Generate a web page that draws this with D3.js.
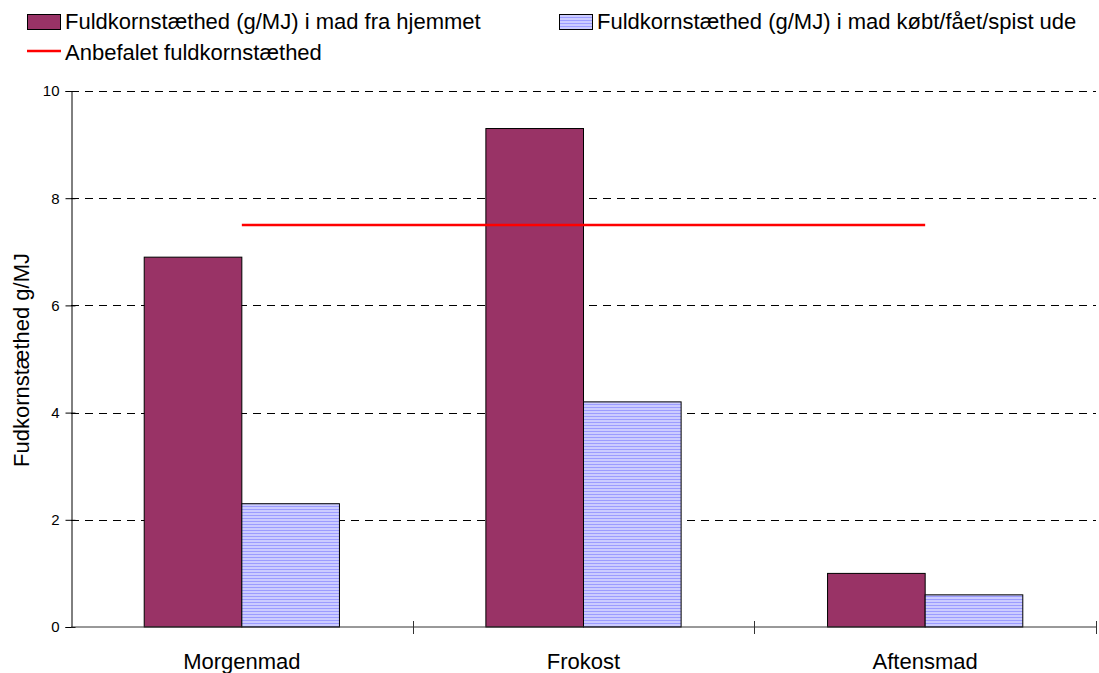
<!DOCTYPE html>
<html>
<head>
<meta charset="utf-8">
<script src="https://cdn.jsdelivr.net/npm/d3@7"></script>
<style>
  html, body { margin: 0; padding: 0; background: #fff; }
  svg { display: block; font-family: "Liberation Sans", Arial, sans-serif; }
</style>
</head>
<body>
<svg id="chart" width="1099" height="673"></svg>
<script>
// Meals and whole-grain density values (g/MJ)
const categories = ["Morgenmad", "Frokost", "Aftensmad"];
const homeValues = [6.9, 9.3, 1.0];
const outValues = [2.3, 4.2, 0.6];
const recommended = [7.5, 7.5, 7.5];
const yTicks = [0, 2, 4, 6, 8, 10];
const seriesNames = [
  "Fuldkornstæthed (g/MJ) i mad fra hjemmet",
  "Fuldkornstæthed (g/MJ) i mad købt/fået/spist ude",
  "Anbefalet fuldkornstæthed"
];
const yTitle = "Fudkornstæthed g/MJ";

const W = 1099, H = 673;
const margin = { top: 91, right: 3, bottom: 46, left: 71 };
const svg = d3.select("#chart");

// striped fill for the "ude" series
const defs = svg.append("defs");
const pat = defs.append("pattern")
  .attr("id", "stripes")
  .attr("patternUnits", "userSpaceOnUse")
  .attr("width", 6).attr("height", 3);
pat.append("rect").attr("width", 6).attr("height", 3).attr("fill", "#ccccff");
pat.append("rect").attr("y", 2).attr("width", 6).attr("height", 1).attr("fill", "#9c9cff");

const x = d3.scaleBand()
  .domain(categories)
  .range([margin.left, W - margin.right]);
// two bars take 2/3.5 of each band (gap = 1.5 bar widths)
const barW = x.bandwidth() / 3.5;

const y = d3.scaleLinear()
  .domain([0, 10])
  .range([H - margin.bottom, margin.top]);

// dashed horizontal gridlines
svg.append("g")
  .selectAll("line")
  .data(yTicks.filter(d => d > 0))
  .join("line")
  .attr("x1", margin.left).attr("x2", W - margin.right)
  .attr("y1", d => Math.round(y(d)) + 0.5).attr("y2", d => Math.round(y(d)) + 0.5)
  .attr("stroke", "#000")
  .attr("stroke-width", 1)
  .attr("stroke-dasharray", "8,6");

const center = c => x(c) + x.bandwidth() / 2;

// bars: home
svg.append("g")
  .selectAll("rect")
  .data(categories)
  .join("rect")
  .attr("x", c => center(c) - barW)
  .attr("y", (c, i) => y(homeValues[i]))
  .attr("width", barW)
  .attr("height", (c, i) => y(0) - y(homeValues[i]))
  .attr("fill", "#993366")
  .attr("stroke", "#000")
  .attr("stroke-width", 1);

// bars: out
svg.append("g")
  .selectAll("rect")
  .data(categories)
  .join("rect")
  .attr("x", c => center(c))
  .attr("y", (c, i) => y(outValues[i]))
  .attr("width", barW)
  .attr("height", (c, i) => y(0) - y(outValues[i]))
  .attr("fill", "url(#stripes)")
  .attr("stroke", "#000")
  .attr("stroke-width", 1);

// recommended level line through category centres
const line = d3.line()
  .x((d, i) => center(categories[i]))
  .y(d => y(d));
svg.append("path")
  .datum(recommended)
  .attr("d", line)
  .attr("fill", "none")
  .attr("stroke", "#ff0000")
  .attr("stroke-width", 2.5);

// y axis
const yAxis = svg.append("g")
  .attr("transform", `translate(${margin.left + 0.5},0)`)
  .call(d3.axisLeft(y).tickValues(yTicks).tickSize(6).tickPadding(6).tickFormat(d3.format("d")));
yAxis.select(".domain").attr("stroke", "#000");
yAxis.selectAll(".tick line").attr("x2", -6).attr("x1", 4).attr("stroke", "#000");
yAxis.selectAll("text").attr("font-size", 15).attr("fill", "#000")
  .attr("font-family", "Liberation Sans, Arial, sans-serif");

// x axis with ticks between categories
const xAxis = svg.append("g")
  .attr("transform", `translate(0,${y(0)})`);
xAxis.append("line")
  .attr("x1", margin.left).attr("x2", W - margin.right)
  .attr("stroke", "#333").attr("stroke-width", 1);
const boundaries = categories.map(c => x(c) + x.bandwidth());
xAxis.selectAll("line.sep")
  .data(boundaries)
  .join("line")
  .attr("class", "sep")
  .attr("x1", d => Math.round(d) + 0.5).attr("x2", d => Math.round(d) + 0.5)
  .attr("y1", -6).attr("y2", 7)
  .attr("stroke", "#333");
xAxis.selectAll("text")
  .data(categories)
  .join("text")
  .attr("x", c => center(c))
  .attr("y", 42)
  .attr("text-anchor", "middle")
  .attr("font-size", 22)
  .attr("fill", "#000")
  .text(c => c);

// y axis title
svg.append("text")
  .attr("transform", "translate(29,360) rotate(-90)")
  .attr("text-anchor", "middle")
  .attr("font-size", 22)
  .attr("fill", "#000")
  .text(yTitle);

// legend
const legend = svg.append("g");
legend.append("rect").attr("x", 27.5).attr("y", 14.5).attr("width", 33).attr("height", 15)
  .attr("fill", "#993366").attr("stroke", "#000");
legend.append("text").attr("x", 65).attr("y", 29).attr("font-size", 22).text(seriesNames[0]);
legend.append("rect").attr("x", 559.5).attr("y", 14.5).attr("width", 33).attr("height", 15)
  .attr("fill", "url(#stripes)").attr("stroke", "#000");
legend.append("text").attr("x", 597).attr("y", 29).attr("font-size", 22).text(seriesNames[1]);
legend.append("line").attr("x1", 27).attr("x2", 61).attr("y1", 51).attr("y2", 51)
  .attr("stroke", "#ff0000").attr("stroke-width", 2.5);
legend.append("text").attr("x", 65).attr("y", 60).attr("font-size", 22).text(seriesNames[2]);
</script>
</body>
</html>
